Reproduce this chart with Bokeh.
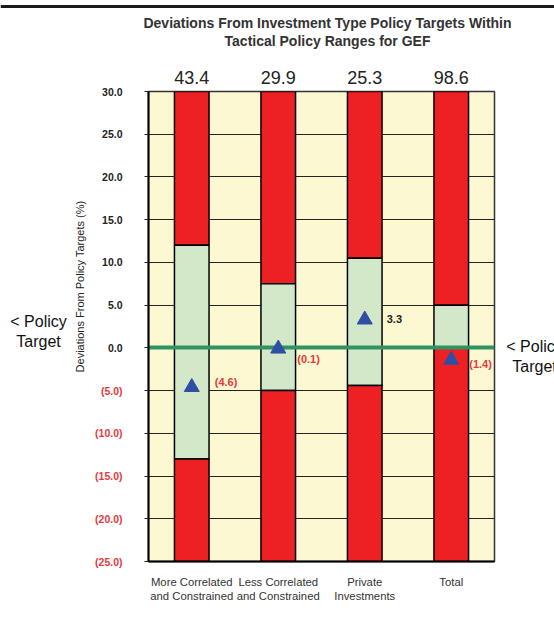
from math import pi
from bokeh.plotting import figure
from bokeh.models import Range1d, FixedTicker, LinearAxis
from bokeh.layouts import column, row
from bokeh.core.properties import value
from bokeh.embed import file_html
from bokeh.resources import INLINE

# ---------------- data ----------------
categories = ["More Correlated\nand Constrained", "Less Correlated\nand Constrained",
              "Private\nInvestments", "Total"]
upper_limit = [12.0, 7.5, 10.5, 5.0]
lower_limit = [-13.0, -5.0, -4.4, 0.0]
actual = [-4.6, -0.1, 3.3, -1.4]
top_values = [43.4, 29.9, 25.3, 98.6]
y_ticks = [30, 25, 20, 15, 10, 5, 0, -5, -10, -15, -20, -25]
title_lines = ["Deviations From Investment Type Policy Targets Within",
               "Tactical Policy Ranges for GEF"]
y_label = "Deviations From Policy Targets (%)"
target_text = "< Policy\nTarget"

# ---------------- style / layout ----------------
Y_MIN, Y_MAX = -25, 30
FONT = "Liberation Sans"
RED = "#ed2024"
GREEN = "#d2e8c8"
BEIGE = "#fcf8d2"
NEG_TXT = "#e8383d"
DARK = "#222222"

TOP_H = 60          # title strip height (includes the rule at the very top)
MAIN_TOP = 31       # main figure top border
FRAME_H = 470
MAIN_BOTTOM = 63
LEFT_W = 138
MAIN_LEFT = 10
FRAME_W = 346
MAIN_RIGHT = 2
RIGHT_W = 58
TOTAL_W = LEFT_W + MAIN_LEFT + FRAME_W + MAIN_RIGHT + RIGHT_W
ROW_H = MAIN_TOP + FRAME_H + MAIN_BOTTOM
PPU = FRAME_H / (Y_MAX - Y_MIN)


def fmt(v):
    return f"({abs(v):.1f})" if v < 0 else f"{v:.1f}"


def blank(width, height, x_range, y_range):
    f = figure(width=width, height=height, x_range=x_range, y_range=y_range,
               output_backend="svg", toolbar_location=None, x_axis_type=None,
               y_axis_type=None, min_border=0, margin=0, title=None,
               frame_align=False)
    f.outline_line_color = None
    f.grid.visible = False
    f.background_fill_color = "white"
    f.border_fill_color = "white"
    return f


xs = [i + 0.5 for i in range(len(categories))]
side_range = Range1d(Y_MIN - MAIN_BOTTOM / PPU, Y_MAX + MAIN_TOP / PPU)

# ---------------- main chart ----------------
p = figure(width=MAIN_LEFT + FRAME_W + MAIN_RIGHT, height=ROW_H,
           x_range=Range1d(0, len(categories)), y_range=Range1d(Y_MIN, Y_MAX),
           output_backend="svg", toolbar_location=None, title=None,
           min_border_left=MAIN_LEFT, min_border_right=MAIN_RIGHT,
           min_border_top=MAIN_TOP, min_border_bottom=MAIN_BOTTOM, margin=0,
           frame_align=False)
p.background_fill_color = BEIGE
p.border_fill_color = "white"
p.outline_line_color = "#333333"
p.outline_line_width = 1.5

p.xgrid.visible = False
p.ygrid.ticker = FixedTicker(ticks=y_ticks)
p.ygrid.grid_line_color = DARK
p.ygrid.grid_line_width = 1.2

p.yaxis.ticker = FixedTicker(ticks=y_ticks)
p.yaxis.major_label_overrides = {v: "" for v in y_ticks}
p.yaxis.major_label_standoff = 0
p.yaxis.major_tick_out = 4
p.yaxis.major_tick_in = 0
p.yaxis.minor_tick_line_color = None
p.yaxis.axis_line_width = 2
p.yaxis.axis_line_color = "black"
p.yaxis.major_tick_line_color = DARK
p.yaxis.major_tick_line_width = 1.2

p.xaxis.ticker = FixedTicker(ticks=xs)
p.xaxis.major_label_overrides = {x: c for x, c in zip(xs, categories)}
p.xaxis.major_label_text_font = FONT
p.xaxis.major_label_text_font_size = "11.3px"
p.xaxis.major_label_text_color = "#333333"
p.xaxis.major_label_standoff = 8
p.xaxis.major_tick_line_color = None
p.xaxis.minor_tick_line_color = None
p.xaxis.axis_line_width = 2
p.xaxis.axis_line_color = "black"

# totals shown above the bars
top_axis = LinearAxis(ticker=FixedTicker(ticks=xs),
                      major_label_overrides={x: f"{v:.1f}" for x, v in zip(xs, top_values)},
                      major_label_text_font=FONT, major_label_text_font_size="18px",
                      major_label_text_color=DARK, major_label_standoff=2,
                      axis_line_color=None, major_tick_line_color=None,
                      minor_tick_line_color=None)
p.add_layout(top_axis, "above")

src = dict(x=xs, upper=upper_limit, lower=lower_limit,
           ymax=[Y_MAX] * len(xs), ymin=[Y_MIN] * len(xs))
common = dict(x="x", width=0.4, source=src, line_color="black", line_width=1.5)
p.vbar(bottom="upper", top="ymax", fill_color=RED, **common)
p.vbar(bottom="lower", top="upper", fill_color=GREEN, **common)
p.vbar(bottom="ymin", top="lower", fill_color=RED, **common)

p.hspan(y=[0], line_color="#2f9462", line_width=4)

p.scatter(xs, actual, marker="triangle", size=15, fill_color="#2e4fa3",
          line_color="#2e4fa3")

x_off = [23, 19, 22, 18]
y_off = [5, -10, 1, -4]
p.text(x=xs, y=actual, text=[fmt(v) for v in actual], x_offset=x_off,
       y_offset=[-d for d in y_off],
       text_align="left", text_baseline="middle", text_font=value(FONT),
       text_font_size="11px", text_font_style="bold",
       text_color=[NEG_TXT if v < 0 else DARK for v in actual])

# ---------------- left strip: tick labels, axis title, target note ----------------
left = blank(LEFT_W, ROW_H, Range1d(0, LEFT_W), side_range)
left.text(x=[LEFT_W - 16] * len(y_ticks), y=y_ticks, text=[fmt(v) for v in y_ticks],
          text_align="right", text_baseline="middle", text_font=value(FONT),
          text_font_size="10.5px", text_font_style="bold",
          text_color=[NEG_TXT if v < 0 else DARK for v in y_ticks])
left.text(x=[79], y=[7.18], text=[y_label], angle=pi / 2, text_align="center",
          text_baseline="middle", text_font=value(FONT),
          text_font_size="11px", text_color=DARK)
left.text(x=[38], y=[1.91], text=[target_text], text_align="center",
          text_baseline="middle", text_font=value(FONT), text_font_size="16px",
          text_color="#111111")

# ---------------- right strip: target note ----------------
right = blank(RIGHT_W, ROW_H, Range1d(0, RIGHT_W), side_range)
right.text(x=[38], y=[-1.01], text=[target_text], text_align="center",
           text_baseline="middle", text_font=value(FONT), text_font_size="16px",
           text_color="#111111")

# ---------------- title strip ----------------
top = blank(TOTAL_W, TOP_H, Range1d(0, TOTAL_W), Range1d(0, TOP_H))
top.hspan(y=[TOP_H - 5.5], line_color="#1a1a1a", line_width=3)
top.text(x=[327, 327], y=[TOP_H - 22, TOP_H - 40], text=title_lines,
         text_align="center", text_baseline="middle", text_font=value(FONT),
         text_font_size="14px", text_font_style="bold", text_color="#333333")

layout = column(top, row(left, p, right, spacing=0), spacing=0, margin=0)

open("out.html", "w").write(file_html(layout, INLINE))
